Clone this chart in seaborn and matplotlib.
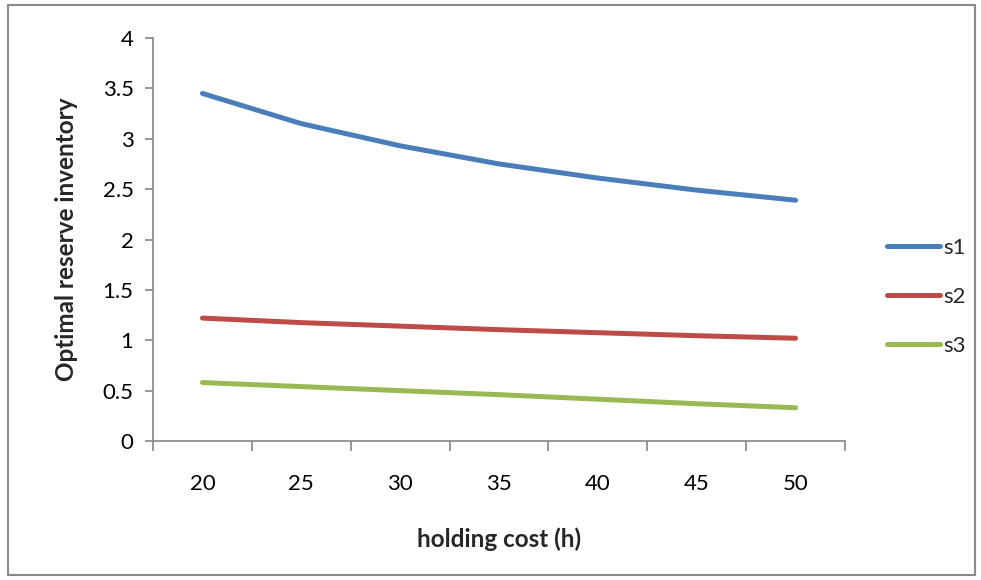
import matplotlib
matplotlib.use("Agg")
import matplotlib.pyplot as plt
import seaborn as sns
import pandas as pd
from matplotlib.patches import Rectangle
from matplotlib.lines import Line2D

categories = [20, 25, 30, 35, 40, 45, 50]
s1 = [3.45, 3.15, 2.93, 2.75, 2.61, 2.49, 2.39]
s2 = [1.22, 1.175, 1.14, 1.105, 1.075, 1.045, 1.02]
s3 = [0.58, 0.54, 0.50, 0.46, 0.415, 0.37, 0.33]
series_names = ["s1", "s2", "s3"]
colors = ["#4A7EBB", "#BE4B48", "#98B954"]
y_ticks = [0, 0.5, 1, 1.5, 2, 2.5, 3, 3.5, 4]
y_tick_labels = ["0", "0.5", "1", "1.5", "2", "2.5", "3", "3.5", "4"]

rows = []
for name, vals in zip(series_names, [s1, s2, s3]):
    for i, (c, v) in enumerate(zip(categories, vals)):
        rows.append({"pos": i, "h": c, "value": v, "series": name})
df = pd.DataFrame(rows)

sns.set_theme(style="white")
plt.rcParams["font.family"] = ["Lato", "DejaVu Sans"]

fig = plt.figure(figsize=(9.81, 5.8), dpi=100)
ax = fig.add_axes([153/981, 1-441/580, (845-153)/981, (441-38)/580])

sns.lineplot(data=df, x="pos", y="value", hue="series", palette=colors,
             linewidth=3.6, ax=ax, legend=False, solid_capstyle="round")

ax.set_xlim(-0.5, len(categories) - 0.5)
ax.set_ylim(0, 4)
ax.set_yticks(y_ticks)
ax.set_yticklabels(y_tick_labels)
ax.set_xticks(range(len(categories)))
ax.set_xticklabels([str(c) for c in categories])
ax.set_xticks([i - 0.5 for i in range(len(categories) + 1)], minor=True)

gray = "#868686"
for s in ["top", "right"]:
    ax.spines[s].set_visible(False)
for s in ["left", "bottom"]:
    ax.spines[s].set_color(gray)
    ax.spines[s].set_linewidth(1.2)

fs = 16
ax.tick_params(axis="y", which="major", direction="out", length=6, width=1.2,
               color=gray, left=True, labelsize=fs, pad=8, labelcolor="black")
ax.tick_params(axis="x", which="major", length=0, labelsize=fs, pad=24,
               labelcolor="black")
ax.tick_params(axis="x", which="minor", direction="out", length=7, width=1.2,
               color=gray, bottom=True)

ax.set_xlabel("holding cost (h)", fontsize=17.5, fontweight="bold", labelpad=24)
ax.set_ylabel("Optimal reserve inventory", fontsize=17.5, fontweight="bold", labelpad=18)

handles = [Line2D([0], [0], color=c, linewidth=3.6, solid_capstyle="round") for c in colors]
fig.legend(handles, series_names, loc="center left",
           bbox_to_anchor=(867/981, 1-297/580), frameon=False, fontsize=fs,
           handlelength=2.4, handletextpad=0.15, labelspacing=1.3)

fig.patches.append(Rectangle((8/981, 5/580), (975-8)/981, (575-5)/580,
                             transform=fig.transFigure, fill=False,
                             edgecolor="#898989", linewidth=1.5))

fig.savefig("out.png", dpi=100)
